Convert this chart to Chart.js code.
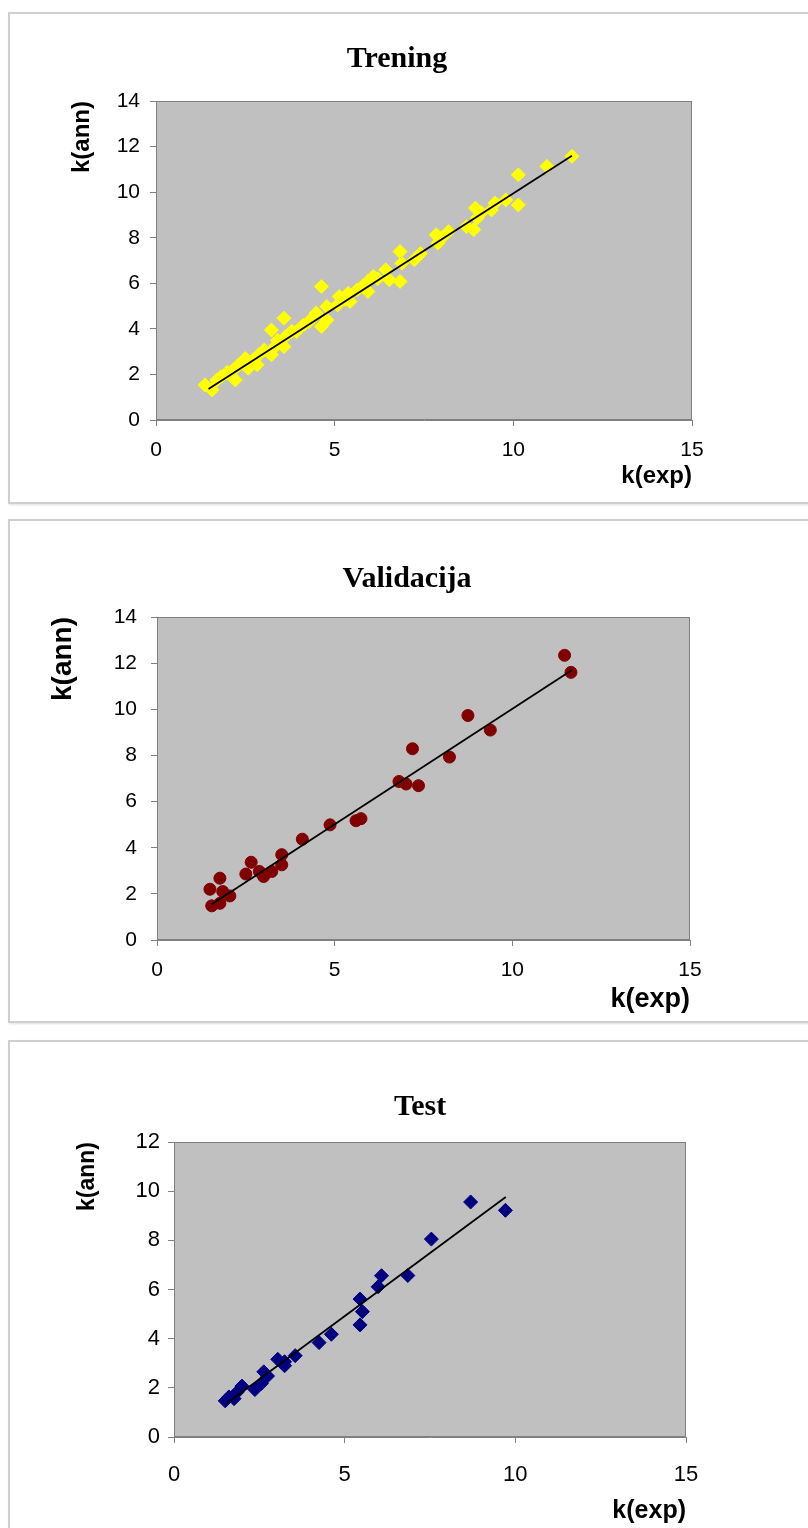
<!DOCTYPE html>
<html>
<head>
<meta charset="utf-8">
<script src="https://cdn.jsdelivr.net/npm/chart.js@4.4.1/dist/chart.umd.min.js"></script>
<style>
  html, body { margin: 0; padding: 0; background: #ffffff; overflow: hidden; }
  body { width: 808px; height: 1528px; position: relative; overflow: hidden; }
  .frame { position: absolute; left: 8px; width: 900px; border: 2px solid #cfcfcf; box-sizing: border-box; box-shadow: 1px 1px 2px #e0e0e0; }
  canvas { position: absolute; left: 0; }
</style>
</head>
<body>
<div class="frame" style="top:12px;height:492px;"></div>
<div class="frame" style="top:519px;height:504px;"></div>
<div class="frame" style="top:1040px;height:520px;"></div>
<canvas id="c1" width="840" height="491" style="top:12px;width:840px;height:491px;"></canvas>
<canvas id="c2" width="840" height="503" style="top:519px;width:840px;height:503px;"></canvas>
<canvas id="c3" width="840" height="488" style="top:1040px;width:840px;height:488px;"></canvas>
<script>
// ---- Data ----
const treningX = [1.37, 1.57, 1.7, 1.82, 1.97, 2.0, 2.17, 2.22, 2.3, 2.42, 2.5, 2.58, 2.73, 2.83, 2.9, 3.03, 3.23, 3.23, 3.33, 3.4, 3.58, 3.58, 3.63, 3.8, 3.93, 4.13, 4.28, 4.4, 4.48, 4.63, 4.63, 4.78, 4.78, 5.08, 5.13, 5.3, 5.38, 5.43, 5.63, 5.8, 5.93, 5.93, 6.08, 6.2, 6.43, 6.53, 6.83, 6.83, 6.88, 7.23, 7.4, 7.84, 7.89, 8.0, 8.19, 8.69, 8.89, 8.94, 8.99, 9.1, 9.39, 9.49, 9.79, 10.14, 10.14, 10.94, 11.64];
const treningY = [1.54, 1.32, 1.75, 1.9, 2.05, 2.1, 2.2, 1.76, 2.4, 2.49, 2.7, 2.27, 2.64, 2.42, 2.9, 3.07, 2.86, 3.95, 3.22, 3.5, 3.22, 4.47, 3.66, 3.9, 3.88, 4.17, 4.32, 4.5, 4.69, 4.1, 5.86, 4.39, 4.98, 5.05, 5.42, 5.3, 5.56, 5.2, 5.71, 5.9, 5.64, 6.08, 6.3, 6.2, 6.59, 6.15, 7.39, 6.08, 6.88, 7.03, 7.3, 8.13, 7.76, 8.0, 8.27, 8.49, 8.35, 9.3, 8.86, 9.1, 9.22, 9.52, 9.66, 9.44, 10.76, 11.13, 11.57];
const treningTrendX = [1.47, 11.64];
const treningTrendY = [1.36, 11.6];

const validX = [1.49, 1.54, 1.77, 1.77, 1.85, 2.05, 2.5, 2.65, 2.88, 3.0, 3.23, 3.51, 3.51, 4.09, 4.87, 5.6, 5.74, 6.81, 7.01, 7.19, 7.36, 8.23, 8.75, 9.38, 11.47, 11.65];
const validY = [2.2, 1.48, 2.68, 1.59, 2.1, 1.91, 2.86, 3.37, 2.97, 2.75, 2.97, 3.7, 3.26, 4.37, 4.99, 5.17, 5.26, 6.87, 6.76, 8.29, 6.69, 7.93, 9.73, 9.1, 12.34, 11.6];
const validTrendX = [1.54, 11.67];
const validTrendY = [1.55, 11.69];

const testX = [1.5, 1.61, 1.76, 1.86, 1.99, 2.37, 2.56, 2.63, 2.74, 3.04, 3.24, 3.24, 3.55, 4.25, 4.61, 5.45, 5.45, 5.52, 5.98, 6.08, 6.85, 7.54, 8.69, 9.71];
const testY = [1.47, 1.63, 1.56, 1.84, 2.07, 1.93, 2.18, 2.65, 2.48, 3.16, 2.9, 3.06, 3.31, 3.84, 4.18, 4.56, 5.61, 5.1, 6.11, 6.56, 6.57, 8.05, 9.56, 9.22];
const testTrendX = [1.54, 9.72];
const testTrendY = [1.36, 9.76];

const titles = ['Trening', 'Validacija', 'Test'];
const xAxisTitle = 'k(exp)';
const yAxisTitle = 'k(ann)';
const xTickStep = 5;
const yTickStep = 2;

// ---- Rendering ----
const CW = 840;
const plotBg = {
  id: 'plotBg',
  beforeDraw(chart) {
    const { ctx, chartArea: { left, top, width, height } } = chart;
    ctx.save();
    ctx.fillStyle = '#c0c0c0';
    ctx.fillRect(left, top, width, height);
    ctx.strokeStyle = '#808080';
    ctx.lineWidth = 1;
    ctx.strokeRect(left + 0.5, top + 0.5, width - 1, height - 1);
    ctx.restore();
  }
};

function pts(xs, ys) { return xs.map((x, i) => ({ x: x, y: ys[i] })); }

function makeChart(id, o) {
  const sans = "'Liberation Sans', Arial, sans-serif";
  const padRight = CW - 2 * o.titleCenter;
  const spacerWidth = 2 * o.titleCenter - o.right;
  return new Chart(document.getElementById(id), {
    type: 'scatter',
    data: {
      datasets: [
        {
          type: 'line',
          data: pts(o.trendX, o.trendY),
          borderColor: '#000000',
          borderWidth: 1.8,
          pointRadius: 0,
          fill: false,
          order: 0
        },
        {
          data: pts(o.xs, o.ys),
          pointStyle: o.pointStyle,
          pointRadius: o.radius,
          backgroundColor: o.color,
          borderColor: o.color,
          borderWidth: 1,
          order: 1
        }
      ]
    },
    options: {
      responsive: false,
      animation: false,
      devicePixelRatio: 1,
      layout: { padding: { left: 0, right: padRight, top: 0, bottom: 0 } },
      plugins: {
        legend: { display: false },
        tooltip: { enabled: false },
        title: {
          display: true,
          text: o.title,
          color: '#000000',
          font: { family: "'Liberation Serif', 'Times New Roman', serif", size: 30, weight: 'bold', lineHeight: 1.2 },
          padding: { top: o.titleTop, bottom: o.titleBottom }
        }
      },
      scales: {
        x: {
          type: 'linear', min: 0, max: 15,
          ticks: { stepSize: xTickStep, color: '#000000', font: { family: sans, size: o.tickSize }, padding: o.xTickPad },
          grid: { drawOnChartArea: false, drawTicks: true, tickLength: 6, color: '#808080', lineWidth: 1 },
          border: { display: true, color: '#808080', width: 1 },
          title: { display: true, text: xAxisTitle, align: 'end', color: '#000000',
                   font: { family: sans, size: o.xTitleSize, weight: 'bold', lineHeight: 1.2 },
                   padding: { top: 0, bottom: o.xTitlePad } },
          afterFit(s) { s.height = o.canvasH - o.bottom; }
        },
        y: {
          type: 'linear', position: 'left', min: 0, max: o.yMax,
          ticks: { stepSize: yTickStep, color: '#000000', font: { family: sans, size: o.tickSize }, padding: o.yTickPad },
          grid: { drawOnChartArea: false, drawTicks: true, tickLength: 6, color: '#808080', lineWidth: 1 },
          border: { display: true, color: '#808080', width: 1 },
          title: { display: true, text: yAxisTitle, align: 'end', color: '#000000',
                   font: { family: sans, size: o.yTitleSize, weight: 'bold', lineHeight: 1.2 },
                   padding: { top: o.yTitleX - o.yTitleSize * 0.6, bottom: 0 } },
          afterFit(s) { s.width = o.left; }
        },
        spacer: {
          type: 'linear', position: 'right', display: true,
          ticks: { display: false },
          grid: { display: false, drawTicks: false },
          border: { display: false },
          title: { display: false },
          afterFit(s) { s.width = spacerWidth; }
        }
      }
    },
    plugins: [plotBg]
  });
}

makeChart('c1', {
  title: titles[0], xs: treningX, ys: treningY, trendX: treningTrendX, trendY: treningTrendY,
  pointStyle: 'rectRot', radius: 7, color: '#ffff00', yMax: 14,
  canvasH: 491, left: 156, right: 692, bottom: 408, titleCenter: 397,
  titleTop: 29, titleBottom: 24,
  tickSize: 21, xTickPad: 12, yTickPad: 10,
  xTitleSize: 24, xTitlePad: 12, yTitleSize: 24, yTitleX: 82
});

makeChart('c2', {
  title: titles[1], xs: validX, ys: validY, trendX: validTrendX, trendY: validTrendY,
  pointStyle: 'circle', radius: 6, color: '#800000', yMax: 14,
  canvasH: 503, left: 157, right: 690, bottom: 421, titleCenter: 407,
  titleTop: 42, titleBottom: 20,
  tickSize: 21, xTickPad: 12, yTickPad: 14,
  xTitleSize: 27, xTitlePad: 6, yTitleSize: 28, yTitleX: 63
});

makeChart('c3', {
  title: titles[2], xs: testX, ys: testY, trendX: testTrendX, trendY: testTrendY,
  pointStyle: 'rectRot', radius: 7, color: '#000080', yMax: 12,
  canvasH: 488, left: 174, right: 686, bottom: 397, titleCenter: 420,
  titleTop: 49, titleBottom: 17,
  tickSize: 22, xTickPad: 19, yTickPad: 8,
  xTitleSize: 25, xTitlePad: 2, yTitleSize: 23, yTitleX: 88
});
</script>
</body>
</html>
